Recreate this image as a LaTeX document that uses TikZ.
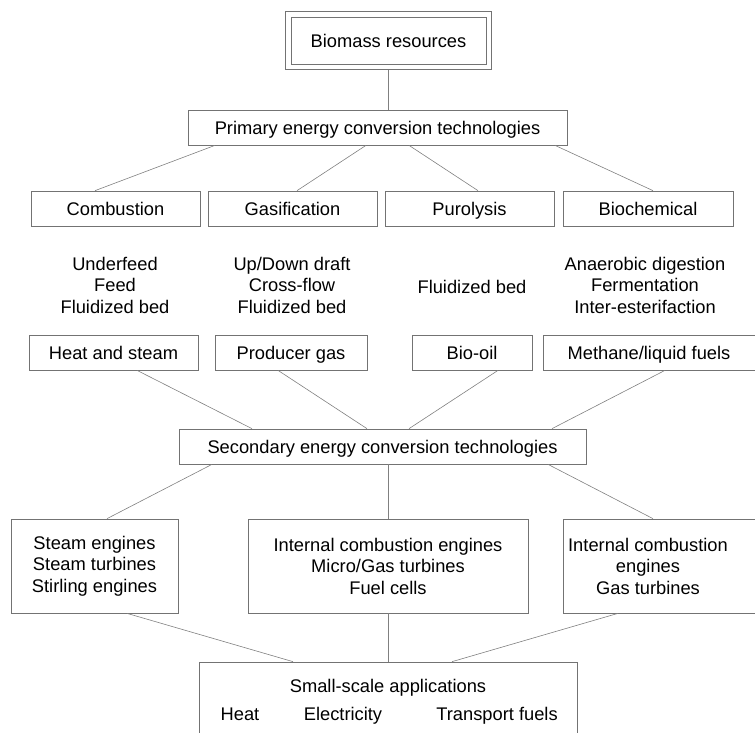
\documentclass[tikz,border=0pt]{standalone}
\usepackage{fontspec}
\setmainfont{Liberation Sans}
\usepackage{tikz}
\usetikzlibrary{calc,fit}
\tikzset{
  box/.style  = {draw=black!55, line width=0.7pt, align=center, inner sep=0pt,
                 minimum height=35pt},
  lst/.style  = {align=center, inner sep=0pt},
  one/.style  = {text height=18pt, text depth=4pt},
  ln/.style   = {draw=black!50, line width=0.6pt},
}

\begin{document}
\begin{tikzpicture}[x=1pt, y=-1pt, font=\fontsize{18.3}{21.5}\selectfont]
  \clip (0,0) rectangle (755,732);
  % source
  \node[box, one, minimum width=195, minimum height=47] (bio) at (388.5,40.5) {Biomass resources};
  \node[draw=black!55, line width=0.7pt, fit=(bio), inner sep=5pt] (bioout) {};
  \node[box, one, minimum width=379] (prim) at (377.5,127.5) {Primary energy conversion technologies};
  \draw[ln] (bioout.south) -- (bio.south |- prim.north);

  % primary routes
  \node[box, one, minimum width=169] (comb) at (115.5,208.5) {Combustion};
  \node[box, one, minimum width=169] (gasi) at (292.5,208.5) {Gasification};
  \node[box, one, minimum width=169] (puro) at (469.5,208.5) {Purolysis};
  \node[box, one, minimum width=170] (bioc) at (648,208.5) {Biochemical};
  \draw[ln] ($(prim.south)+(-162.5,0)$) -- ($(comb.north)+(-20.5,0)$);
  \draw[ln] ($(prim.south)+(-11.5,0)$) -- ($(gasi.north)+(4.5,0)$);
  \draw[ln] ($(prim.south)+(31.5,0)$) -- ($(puro.north)+(8.5,0)$);
  \draw[ln] ($(prim.south)+(177.5,0)$) -- ($(bioc.north)+(5,0)$);

  \node[lst] (combl) at (115,285) {Underfeed\\Feed\\Fluidized bed};
  \node[lst] (gasil) at (292,285) {Up/Down draft\\Cross-flow\\Fluidized bed};
  \node[lst, one] (purol) at (472,286) {Fluidized bed};
  \node[lst] (biocl) at (645,285) {Anaerobic digestion\\Fermentation\\Inter-esterifaction};

  % products
  \node[box, one, minimum width=169] (heat) at (113.5,352.5) {Heat and steam};
  \node[box, one, minimum width=152] (prod) at (291,352.5) {Producer gas};
  \node[box, one, minimum width=120] (oil) at (472,352.5) {Bio-oil};
  \node[box, one, minimum width=212] (meth) at (649,352.5) {Methane/liquid fuels};

  \node[box, one, minimum width=407] (sec) at (382.5,446.5) {Secondary energy conversion technologies};
  \draw[ln] ($(heat.south)+(23.5,0)$) -- ($(sec.north)+(-130.5,0)$);
  \draw[ln] ($(prod.south)+(-13,0)$) -- ($(sec.north)+(-15.5,0)$);
  \draw[ln] ($(oil.south)+(26,0)$) -- ($(sec.north)+(26.5,0)$);
  \draw[ln] ($(meth.south)+(16,0)$) -- ($(sec.north)+(169.5,0)$);

  % prime movers
  \node[box, minimum width=167, minimum height=94] (steam) at (94.5,566)
       {Steam engines\\Steam turbines\\Stirling engines};
  \node[box, minimum width=280, minimum height=94] (ice) at (388,566)
       {Internal combustion engines\\Micro/Gas turbines\\Fuel cells};
  \node[box, minimum width=197, minimum height=94] (icebox) at (661.5,566) {};
  \node[lst] (ice2) at (648,566) {Internal combustion\\engines\\Gas turbines};
  \draw[ln] ($(sec.south)+(-170.5,0)$) -- ($(steam.north)+(12.5,0)$);
  \draw[ln] ($(sec.south)+(5.5,0)$) -- (ice.north);
  \draw[ln] ($(sec.south)+(165.5,0)$) -- ($(icebox.north)+(-8.5,0)$);

  % end use
  \node[box, minimum width=378, minimum height=78] (bot) at (388,701) {};
  \node[lst, one] (app) at (388,685) {Small-scale applications};
  \node[lst, one] (heatu) at (240,713) {Heat};
  \node[lst, one] (elec) at (343,713) {Electricity};
  \node[lst, one] (fuel) at (497,713) {Transport fuels};
  \draw[ln] ($(steam.south)+(32.5,0)$) -- ($(bot.north)+(-95,0)$);
  \draw[ln] (ice.south) -- (bot.north);
  \draw[ln] ($(icebox.south)+(-43.5,0)$) -- ($(bot.north)+(64,0)$);
\end{tikzpicture}
\end{document}
